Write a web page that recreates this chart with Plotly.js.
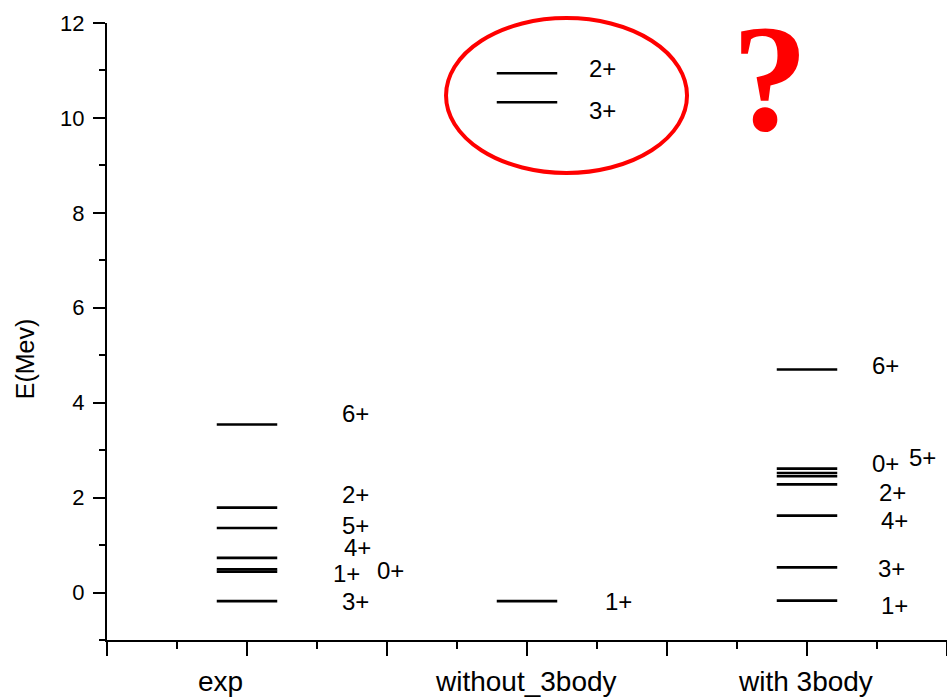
<!DOCTYPE html>
<html>
<head>
<meta charset="utf-8">
<script src="https://cdn.plot.ly/plotly-3.0.1.min.js"></script>
<style>
  html, body { margin: 0; padding: 0; background: #fff; }
  #chart { width: 947px; height: 698px; }
</style>
</head>
<body>
<div id="chart"></div>
<script>
// Level scheme columns (category positions 1, 2, 3)
const columns = ['exp', 'without_3body', 'with 3body'];

// Experimental levels (MeV) and spin-parity
const expE     = [-0.18, 0.44, 0.49, 0.73, 1.36, 1.79, 3.54];
const expSpins = ['3+', '1+', '0+', '4+', '5+', '2+', '6+'];

// Shell-model levels without three-body forces
const noTbE     = [-0.18, 10.33, 10.94];
const noTbSpins = ['1+', '3+', '2+'];

// Shell-model levels with three-body forces
const withTbE     = [-0.17, 0.53, 1.62, 2.28, 2.45, 2.52, 2.61, 4.70];
const withTbSpins = ['1+', '3+', '4+', '2+', '0+', '', '5+', '6+'];

// Hand placement of the spin labels (x in column units, y in MeV)
const expLabelX   = [1.389, 1.354, 1.511, 1.396, 1.386, 1.386, 1.389];
const expLabelY   = [-0.19, 0.40, 0.46, 0.95, 1.41, 2.07, 3.77];
const noTbLabelX  = [2.325, 2.271, 2.271];
const noTbLabelY  = [-0.18, 10.16, 11.05];
const withLabelX  = [3.311, 3.300, 3.311, 3.304, 3.282, 0, 3.414, 3.279];
const withLabelY  = [-0.27, 0.51, 1.52, 2.11, 2.72, 0, 2.85, 4.79];

const halfWidth = 0.108;   // half length of a level bar, column units
const FONT = 'Liberation Sans, Arial, sans-serif';

function levelTrace(col, energies) {
  const x = [], y = [];
  energies.forEach(e => {
    x.push(col - halfWidth, col + halfWidth, null);
    y.push(e, e, null);
  });
  return {
    type: 'scatter', mode: 'lines', x: x, y: y,
    line: { color: '#000', width: 2.6 },
    hoverinfo: 'skip', showlegend: false
  };
}

function labelAnnotations(spins, lx, ly) {
  const out = [];
  spins.forEach((s, i) => {
    if (!s) return;
    out.push({
      x: lx[i], y: ly[i], xref: 'x', yref: 'y', text: s, showarrow: false,
      xanchor: 'center', yanchor: 'middle',
      font: { family: FONT, size: 24, color: '#000' }
    });
  });
  return out;
}

const traces = [
  levelTrace(1, expE),
  levelTrace(2, noTbE),
  levelTrace(3, withTbE)
];

const columnLabelX = [0.904, 1.996, 2.996];
const columnAnn = columns.map((c, i) => ({
  x: columnLabelX[i], y: -0.068, xref: 'x', yref: 'paper', text: c,
  showarrow: false, xanchor: 'center', yanchor: 'middle',
  font: { family: FONT, size: 28, color: '#000' }
}));

const annotations = []
  .concat(labelAnnotations(expSpins, expLabelX, expLabelY))
  .concat(labelAnnotations(noTbSpins, noTbLabelX, noTbLabelY))
  .concat(labelAnnotations(withTbSpins, withLabelX, withLabelY))
  .concat(columnAnn)
  .concat([{
    // vertical axis title
    x: -0.0976, y: 0.455, xref: 'paper', yref: 'paper', text: 'E(Mev)',
    showarrow: false, textangle: -90, xanchor: 'center', yanchor: 'middle',
    font: { family: FONT, size: 25, color: '#000' }
  }, {
    x: 0.789, y: 0.91, xref: 'paper', yref: 'paper', text: '?',
    showarrow: false, xanchor: 'center', yanchor: 'middle',
    font: { family: 'Liberation Serif, Times New Roman, serif', size: 152, color: '#f00', weight: 'bold' }
  }]);

const layout = {
  width: 947, height: 698,
  margin: { l: 107, r: 0, t: 23, b: 58 },
  paper_bgcolor: '#fff', plot_bgcolor: '#fff',
  font: { family: FONT, color: '#000' },
  xaxis: {
    range: [0.5, 3.5], showgrid: false, zeroline: false,
    showline: true, linecolor: '#000', linewidth: 2,
    ticks: 'outside', tickvals: [0.5, 1, 1.5, 2, 2.5, 3, 3.5], ticklen: 14,
    tickwidth: 2, tickcolor: '#000', showticklabels: false,
    minor: { tickvals: [0.75, 1.25, 1.75, 2.25, 2.75, 3.25], ticks: 'outside', ticklen: 7, tickwidth: 2, tickcolor: '#000' },
    fixedrange: true
  },
  yaxis: {
    range: [-1, 12], showgrid: false, zeroline: false,
    showline: true, linecolor: '#000', linewidth: 2,
    ticks: 'outside', tick0: 0, dtick: 2, ticklen: 12, tickwidth: 2, tickcolor: '#000',
    ticklabelstandoff: 4,
    tickfont: { family: FONT, size: 22, color: '#000' },
    minor: { dtick: 1, ticks: 'outside', ticklen: 6, tickwidth: 2, tickcolor: '#000' },
    automargin: false,
    fixedrange: true
  },
  shapes: [{
    type: 'circle', xref: 'paper', yref: 'paper',
    x0: 0.4036, x1: 0.6905, y0: 0.757, y1: 1.008,
    line: { color: '#f00', width: 4 }, fillcolor: 'rgba(0,0,0,0)'
  }],
  annotations: annotations,
  showlegend: false
};

Plotly.newPlot('chart', traces, layout, { displayModeBar: false, staticPlot: true });
</script>
</body>
</html>
